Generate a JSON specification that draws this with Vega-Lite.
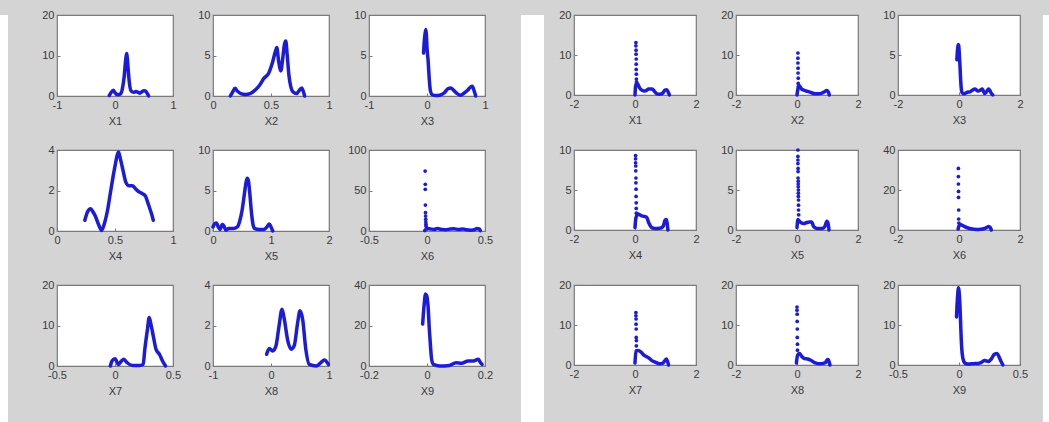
{
"$schema":"https://vega.github.io/schema/vega-lite/v6.json",
"background":"#d4d4d4",
"padding":{"left":0,"top":8,"right":0,"bottom":0},
"config":{
"view":{"fill":"white","stroke":"#7a7a7a","strokeWidth":1.2},
"axis":{"domain":false,"grid":false,"ticks":true,"tickSize":-3,"tickColor":"#7a7a7a","labelExpr":"toString(datum.value)","labelFont":"Liberation Sans","labelFontSize":11,"labelColor":"#3a3a3a","labelPadding":6,"labelFlush":false,"labelOverlap":false,"labelBound":false,"titleFont":"Liberation Sans","titleFontSize":11,"titleFontWeight":"normal","titleColor":"#3a3a3a","titlePadding":5},
"line":{"strokeWidth":3.5,"color":"#1c1cd8","interpolate":"monotone","strokeCap":"round","strokeJoin":"round"},
"point":{"filled":true,"size":14,"color":"#1c1cd8","opacity":1}
},
"datasets":{
"L":[
{"s":"L1","x":-0.1,"y":0.1},{"s":"L1","x":-0.07,"y":0.8},{"s":"L1","x":-0.03,"y":1.4},{"s":"L1","x":0,"y":0.8},{"s":"L1","x":0.05,"y":0.3},{"s":"L1","x":0.1,"y":0.6},{"s":"L1","x":0.13,"y":2},{"s":"L1","x":0.16,"y":5},{"s":"L1","x":0.185,"y":9},{"s":"L1","x":0.2,"y":10.5},{"s":"L1","x":0.215,"y":9},{"s":"L1","x":0.23,"y":6},{"s":"L1","x":0.25,"y":3},{"s":"L1","x":0.28,"y":1.2},{"s":"L1","x":0.32,"y":0.9},{"s":"L1","x":0.36,"y":1.1},{"s":"L1","x":0.4,"y":0.9},{"s":"L1","x":0.43,"y":0.7},{"s":"L1","x":0.46,"y":1},{"s":"L1","x":0.5,"y":1.3},{"s":"L1","x":0.53,"y":1.2},{"s":"L1","x":0.56,"y":0.5},{"s":"L1","x":0.58,"y":0},
{"s":"L2","x":0.15,"y":0},{"s":"L2","x":0.17,"y":0.5},{"s":"L2","x":0.19,"y":0.95},{"s":"L2","x":0.21,"y":0.6},{"s":"L2","x":0.24,"y":0.3},{"s":"L2","x":0.28,"y":0.2},{"s":"L2","x":0.32,"y":0.3},{"s":"L2","x":0.36,"y":0.7},{"s":"L2","x":0.4,"y":1.3},{"s":"L2","x":0.44,"y":2.2},{"s":"L2","x":0.48,"y":2.8},{"s":"L2","x":0.51,"y":4},{"s":"L2","x":0.54,"y":5.6},{"s":"L2","x":0.55,"y":6},{"s":"L2","x":0.565,"y":4.4},{"s":"L2","x":0.585,"y":3.1},{"s":"L2","x":0.6,"y":4.5},{"s":"L2","x":0.615,"y":6.3},{"s":"L2","x":0.627,"y":6.8},{"s":"L2","x":0.64,"y":5},{"s":"L2","x":0.655,"y":2.5},{"s":"L2","x":0.67,"y":1.2},{"s":"L2","x":0.69,"y":0.5},{"s":"L2","x":0.72,"y":0.3},{"s":"L2","x":0.75,"y":0.8},{"s":"L2","x":0.765,"y":1},{"s":"L2","x":0.78,"y":0.5},{"s":"L2","x":0.79,"y":0},
{"s":"L3","x":-0.06,"y":5.3},{"s":"L3","x":-0.05,"y":6.5},{"s":"L3","x":-0.035,"y":7.6},{"s":"L3","x":-0.02,"y":8.2},{"s":"L3","x":-0.01,"y":7.5},{"s":"L3","x":0,"y":6},{"s":"L3","x":0.02,"y":4.3},{"s":"L3","x":0.04,"y":2},{"s":"L3","x":0.06,"y":0.6},{"s":"L3","x":0.09,"y":0.15},{"s":"L3","x":0.15,"y":0.05},{"s":"L3","x":0.22,"y":0.1},{"s":"L3","x":0.3,"y":0.4},{"s":"L3","x":0.36,"y":0.9},{"s":"L3","x":0.41,"y":1.0},{"s":"L3","x":0.46,"y":0.7},{"s":"L3","x":0.52,"y":0.3},{"s":"L3","x":0.58,"y":0.1},{"s":"L3","x":0.63,"y":0.3},{"s":"L3","x":0.7,"y":0.7},{"s":"L3","x":0.75,"y":1.1},{"s":"L3","x":0.78,"y":1.2},{"s":"L3","x":0.81,"y":0.7},{"s":"L3","x":0.84,"y":0},
{"s":"L4","x":0.24,"y":0.53},{"s":"L4","x":0.26,"y":0.9},{"s":"L4","x":0.29,"y":1.1},{"s":"L4","x":0.31,"y":0.95},{"s":"L4","x":0.33,"y":0.74},{"s":"L4","x":0.36,"y":0.3},{"s":"L4","x":0.385,"y":0.03},{"s":"L4","x":0.41,"y":0.4},{"s":"L4","x":0.435,"y":1.0},{"s":"L4","x":0.458,"y":1.8},{"s":"L4","x":0.478,"y":2.5},{"s":"L4","x":0.5,"y":3.2},{"s":"L4","x":0.52,"y":3.77},{"s":"L4","x":0.53,"y":3.9},{"s":"L4","x":0.545,"y":3.6},{"s":"L4","x":0.565,"y":3.1},{"s":"L4","x":0.594,"y":2.4},{"s":"L4","x":0.62,"y":2.23},{"s":"L4","x":0.65,"y":2.23},{"s":"L4","x":0.675,"y":2.1},{"s":"L4","x":0.696,"y":1.98},{"s":"L4","x":0.733,"y":1.85},{"s":"L4","x":0.762,"y":1.73},{"s":"L4","x":0.78,"y":1.45},{"s":"L4","x":0.797,"y":1.16},{"s":"L4","x":0.815,"y":0.85},{"s":"L4","x":0.83,"y":0.53},
{"s":"L5","x":0,"y":0.5},{"s":"L5","x":0.03,"y":0.9},{"s":"L5","x":0.06,"y":1.0},{"s":"L5","x":0.09,"y":0.5},{"s":"L5","x":0.12,"y":0.2},{"s":"L5","x":0.16,"y":0.8},{"s":"L5","x":0.19,"y":0.6},{"s":"L5","x":0.22,"y":0.1},{"s":"L5","x":0.27,"y":0.3},{"s":"L5","x":0.35,"y":0.3},{"s":"L5","x":0.42,"y":0.5},{"s":"L5","x":0.46,"y":1.2},{"s":"L5","x":0.5,"y":2.5},{"s":"L5","x":0.54,"y":4.5},{"s":"L5","x":0.57,"y":6},{"s":"L5","x":0.59,"y":6.5},{"s":"L5","x":0.61,"y":6.2},{"s":"L5","x":0.63,"y":5},{"s":"L5","x":0.66,"y":2.5},{"s":"L5","x":0.69,"y":0.8},{"s":"L5","x":0.72,"y":0.3},{"s":"L5","x":0.8,"y":0.2},{"s":"L5","x":0.88,"y":0.2},{"s":"L5","x":0.93,"y":0.5},{"s":"L5","x":0.97,"y":0.85},{"s":"L5","x":1.0,"y":0.5},{"s":"L5","x":1.03,"y":0},
{"s":"L6","x":-0.02,"y":0.5},{"s":"L6","x":0,"y":3},{"s":"L6","x":0.03,"y":2.5},{"s":"L6","x":0.06,"y":2},{"s":"L6","x":0.09,"y":3},{"s":"L6","x":0.12,"y":2.2},{"s":"L6","x":0.16,"y":1.5},{"s":"L6","x":0.2,"y":2.5},{"s":"L6","x":0.23,"y":2.8},{"s":"L6","x":0.27,"y":1.8},{"s":"L6","x":0.31,"y":2.5},{"s":"L6","x":0.34,"y":1.5},{"s":"L6","x":0.38,"y":1},{"s":"L6","x":0.41,"y":1.5},{"s":"L6","x":0.43,"y":3},{"s":"L6","x":0.45,"y":2.5},{"s":"L6","x":0.46,"y":0.5},
{"s":"L7","x":-0.04,"y":0},{"s":"L7","x":-0.026,"y":1.24},{"s":"L7","x":0,"y":1.8},{"s":"L7","x":0.03,"y":0.4},{"s":"L7","x":0.055,"y":1.2},{"s":"L7","x":0.076,"y":1.65},{"s":"L7","x":0.105,"y":0.8},{"s":"L7","x":0.15,"y":0.15},{"s":"L7","x":0.21,"y":0.1},{"s":"L7","x":0.243,"y":0.4},{"s":"L7","x":0.257,"y":4.1},{"s":"L7","x":0.28,"y":9.1},{"s":"L7","x":0.295,"y":12},{"s":"L7","x":0.31,"y":10.3},{"s":"L7","x":0.33,"y":7.4},{"s":"L7","x":0.354,"y":4.1},{"s":"L7","x":0.383,"y":2.9},{"s":"L7","x":0.41,"y":1.24},{"s":"L7","x":0.436,"y":0},
{"s":"L8","x":-0.075,"y":0.58},{"s":"L8","x":-0.03,"y":0.86},{"s":"L8","x":0.03,"y":0.74},{"s":"L8","x":0.086,"y":1.0},{"s":"L8","x":0.14,"y":2.0},{"s":"L8","x":0.19,"y":2.8},{"s":"L8","x":0.23,"y":2.3},{"s":"L8","x":0.29,"y":1.24},{"s":"L8","x":0.345,"y":0.83},{"s":"L8","x":0.4,"y":1.0},{"s":"L8","x":0.46,"y":2.15},{"s":"L8","x":0.5,"y":2.73},{"s":"L8","x":0.546,"y":2.3},{"s":"L8","x":0.6,"y":0.83},{"s":"L8","x":0.66,"y":0.08},{"s":"L8","x":0.78,"y":0},{"s":"L8","x":0.86,"y":0.17},{"s":"L8","x":0.92,"y":0.3},{"s":"L8","x":0.99,"y":0.08},
{"s":"L9","x":-0.015,"y":20.7},{"s":"L9","x":-0.013,"y":24.8},{"s":"L9","x":-0.009,"y":31.4},{"s":"L9","x":-0.006,"y":35.5},{"s":"L9","x":-0.001,"y":34.7},{"s":"L9","x":0.0035,"y":29.8},{"s":"L9","x":0.008,"y":18.2},{"s":"L9","x":0.012,"y":9.9},{"s":"L9","x":0.016,"y":3.3},{"s":"L9","x":0.022,"y":0.8},{"s":"L9","x":0.043,"y":0},{"s":"L9","x":0.078,"y":0.3},{"s":"L9","x":0.1,"y":1.65},{"s":"L9","x":0.119,"y":1.3},{"s":"L9","x":0.142,"y":2.5},{"s":"L9","x":0.16,"y":2.5},{"s":"L9","x":0.177,"y":3.3},{"s":"L9","x":0.183,"y":2.0},{"s":"L9","x":0.19,"y":0.8},
{"s":"R1","x":0,"y":0},{"s":"R1","x":0.02,"y":2.2},{"s":"R1","x":0.06,"y":3},{"s":"R1","x":0.1,"y":2.6},{"s":"R1","x":0.15,"y":1.8},{"s":"R1","x":0.22,"y":1.2},{"s":"R1","x":0.29,"y":1.0},{"s":"R1","x":0.36,"y":1.1},{"s":"R1","x":0.45,"y":1.5},{"s":"R1","x":0.56,"y":1.5},{"s":"R1","x":0.64,"y":0.9},{"s":"R1","x":0.72,"y":0.3},{"s":"R1","x":0.8,"y":0.2},{"s":"R1","x":0.9,"y":0.4},{"s":"R1","x":0.98,"y":1.2},{"s":"R1","x":1.04,"y":1.3},{"s":"R1","x":1.1,"y":0.5},{"s":"R1","x":1.13,"y":0},
{"s":"R2","x":0,"y":0},{"s":"R2","x":0.03,"y":1.5},{"s":"R2","x":0.08,"y":2.3},{"s":"R2","x":0.15,"y":1.5},{"s":"R2","x":0.22,"y":1.2},{"s":"R2","x":0.3,"y":1.0},{"s":"R2","x":0.4,"y":0.8},{"s":"R2","x":0.5,"y":0.5},{"s":"R2","x":0.6,"y":0.3},{"s":"R2","x":0.7,"y":0.3},{"s":"R2","x":0.8,"y":0.4},{"s":"R2","x":0.9,"y":0.8},{"s":"R2","x":0.97,"y":1.1},{"s":"R2","x":1.03,"y":0.7},{"s":"R2","x":1.06,"y":0},
{"s":"R3","x":-0.07,"y":4.4},{"s":"R3","x":-0.05,"y":5.6},{"s":"R3","x":-0.03,"y":6.3},{"s":"R3","x":-0.01,"y":6.2},{"s":"R3","x":0.01,"y":5.2},{"s":"R3","x":0.03,"y":3.8},{"s":"R3","x":0.05,"y":2.2},{"s":"R3","x":0.07,"y":1.0},{"s":"R3","x":0.1,"y":0.3},{"s":"R3","x":0.15,"y":0.15},{"s":"R3","x":0.2,"y":0.2},{"s":"R3","x":0.28,"y":0.35},{"s":"R3","x":0.36,"y":0.4},{"s":"R3","x":0.44,"y":0.6},{"s":"R3","x":0.52,"y":0.76},{"s":"R3","x":0.58,"y":0.6},{"s":"R3","x":0.63,"y":0.5},{"s":"R3","x":0.7,"y":0.6},{"s":"R3","x":0.76,"y":0.76},{"s":"R3","x":0.8,"y":0.5},{"s":"R3","x":0.84,"y":0.2},{"s":"R3","x":0.9,"y":0.4},{"s":"R3","x":0.97,"y":0.76},{"s":"R3","x":1.02,"y":0.5},{"s":"R3","x":1.06,"y":0.2},{"s":"R3","x":1.11,"y":0},
{"s":"R4","x":0,"y":0.3},{"s":"R4","x":0.03,"y":1.5},{"s":"R4","x":0.1,"y":2.0},{"s":"R4","x":0.2,"y":1.8},{"s":"R4","x":0.3,"y":1.7},{"s":"R4","x":0.38,"y":1.6},{"s":"R4","x":0.45,"y":0.9},{"s":"R4","x":0.55,"y":0.3},{"s":"R4","x":0.65,"y":0.2},{"s":"R4","x":0.75,"y":0.2},{"s":"R4","x":0.85,"y":0.25},{"s":"R4","x":0.93,"y":0.5},{"s":"R4","x":0.98,"y":1.2},{"s":"R4","x":1.03,"y":1.3},{"s":"R4","x":1.06,"y":0.7},{"s":"R4","x":1.08,"y":0},
{"s":"R5","x":0,"y":0.3},{"s":"R5","x":0.03,"y":1.3},{"s":"R5","x":0.08,"y":1.1},{"s":"R5","x":0.14,"y":0.9},{"s":"R5","x":0.22,"y":0.8},{"s":"R5","x":0.3,"y":0.9},{"s":"R5","x":0.4,"y":1.0},{"s":"R5","x":0.48,"y":1.0},{"s":"R5","x":0.55,"y":0.4},{"s":"R5","x":0.65,"y":0.2},{"s":"R5","x":0.75,"y":0.2},{"s":"R5","x":0.85,"y":0.2},{"s":"R5","x":0.92,"y":0.5},{"s":"R5","x":0.98,"y":1.1},{"s":"R5","x":1.02,"y":0.8},{"s":"R5","x":1.05,"y":0},
{"s":"R6","x":-0.03,"y":0.5},{"s":"R6","x":0,"y":2},{"s":"R6","x":0.05,"y":2.8},{"s":"R6","x":0.1,"y":2.4},{"s":"R6","x":0.2,"y":1.6},{"s":"R6","x":0.3,"y":1.0},{"s":"R6","x":0.4,"y":0.6},{"s":"R6","x":0.5,"y":0.4},{"s":"R6","x":0.6,"y":0.3},{"s":"R6","x":0.7,"y":0.4},{"s":"R6","x":0.8,"y":0.6},{"s":"R6","x":0.9,"y":1.2},{"s":"R6","x":0.97,"y":1.8},{"s":"R6","x":1.02,"y":1.3},{"s":"R6","x":1.06,"y":0},
{"s":"R7","x":0,"y":0.5},{"s":"R7","x":0.03,"y":3.5},{"s":"R7","x":0.1,"y":3.6},{"s":"R7","x":0.2,"y":3.2},{"s":"R7","x":0.3,"y":2.4},{"s":"R7","x":0.4,"y":2.0},{"s":"R7","x":0.46,"y":1.7},{"s":"R7","x":0.55,"y":1.1},{"s":"R7","x":0.68,"y":0.66},{"s":"R7","x":0.8,"y":0.3},{"s":"R7","x":0.9,"y":0.4},{"s":"R7","x":0.97,"y":1.0},{"s":"R7","x":1.03,"y":1.5},{"s":"R7","x":1.07,"y":0.8},{"s":"R7","x":1.1,"y":0},
{"s":"R8","x":-0.02,"y":0.5},{"s":"R8","x":0.02,"y":2.5},{"s":"R8","x":0.08,"y":2.9},{"s":"R8","x":0.15,"y":2.2},{"s":"R8","x":0.25,"y":1.6},{"s":"R8","x":0.35,"y":1.5},{"s":"R8","x":0.45,"y":1.2},{"s":"R8","x":0.55,"y":0.7},{"s":"R8","x":0.65,"y":0.4},{"s":"R8","x":0.75,"y":0.3},{"s":"R8","x":0.85,"y":0.4},{"s":"R8","x":0.93,"y":0.6},{"s":"R8","x":0.98,"y":1.2},{"s":"R8","x":1.02,"y":1.4},{"s":"R8","x":1.06,"y":0.6},{"s":"R8","x":1.08,"y":0},
{"s":"R9","x":-0.02,"y":12},{"s":"R9","x":-0.017,"y":14.5},{"s":"R9","x":-0.013,"y":16.5},{"s":"R9","x":-0.009,"y":18.3},{"s":"R9","x":-0.005,"y":19.3},{"s":"R9","x":-0.001,"y":18.8},{"s":"R9","x":0.003,"y":17.5},{"s":"R9","x":0.007,"y":15.5},{"s":"R9","x":0.011,"y":12.5},{"s":"R9","x":0.015,"y":9},{"s":"R9","x":0.019,"y":6},{"s":"R9","x":0.023,"y":4},{"s":"R9","x":0.028,"y":2.4},{"s":"R9","x":0.035,"y":1.3},{"s":"R9","x":0.045,"y":0.6},{"s":"R9","x":0.06,"y":0.3},{"s":"R9","x":0.076,"y":0.25},{"s":"R9","x":0.1,"y":0.3},{"s":"R9","x":0.13,"y":0.35},{"s":"R9","x":0.157,"y":0.4},{"s":"R9","x":0.18,"y":0.6},{"s":"R9","x":0.21,"y":1.1},{"s":"R9","x":0.24,"y":0.9},{"s":"R9","x":0.265,"y":1.5},{"s":"R9","x":0.29,"y":2.7},{"s":"R9","x":0.313,"y":2.9},{"s":"R9","x":0.33,"y":1.9},{"s":"R9","x":0.345,"y":0.9},{"s":"R9","x":0.36,"y":0}
],
"P":[
{"s":"L6","x":-0.016,"y":74},{"s":"L6","x":-0.015,"y":57.6},{"s":"L6","x":-0.015,"y":51.4},{"s":"L6","x":-0.014,"y":32},{"s":"L6","x":-0.013,"y":22.6},{"s":"L6","x":-0.012,"y":18.5},{"s":"L6","x":-0.011,"y":14.4},{"s":"L6","x":-0.01,"y":11},{"s":"L6","x":-0.009,"y":8.2},{"s":"L6","x":-0.008,"y":6},
{"s":"R1","x":0.03,"y":13.1},{"s":"R1","x":0.03,"y":12.3},{"s":"R1","x":0.035,"y":11.2},{"s":"R1","x":0.035,"y":10.2},{"s":"R1","x":0.04,"y":9.0},{"s":"R1","x":0.04,"y":7.7},{"s":"R1","x":0.04,"y":6.4},{"s":"R1","x":0.045,"y":5.2},{"s":"R1","x":0.045,"y":4.0},{"s":"R1","x":0.05,"y":3.3},
{"s":"R2","x":0.03,"y":10.5},{"s":"R2","x":0.03,"y":9.2},{"s":"R2","x":0.03,"y":8},{"s":"R2","x":0.035,"y":6.7},{"s":"R2","x":0.035,"y":5.5},{"s":"R2","x":0.04,"y":4.2},{"s":"R2","x":0.04,"y":2.9},{"s":"R2","x":0.045,"y":2.1},
{"s":"R4","x":0.02,"y":9.3},{"s":"R4","x":0.02,"y":8.9},{"s":"R4","x":0.02,"y":8.4},{"s":"R4","x":0.025,"y":8.0},{"s":"R4","x":0.025,"y":7.4},{"s":"R4","x":0.03,"y":6.5},{"s":"R4","x":0.03,"y":5.9},{"s":"R4","x":0.035,"y":5.1},{"s":"R4","x":0.035,"y":4.2},{"s":"R4","x":0.04,"y":3.4},{"s":"R4","x":0.04,"y":2.7},{"s":"R4","x":0.045,"y":2.1},
{"s":"R5","x":0.03,"y":10},{"s":"R5","x":0.03,"y":9.2},{"s":"R5","x":0.03,"y":8.75},{"s":"R5","x":0.03,"y":8.3},{"s":"R5","x":0.035,"y":7.7},{"s":"R5","x":0.035,"y":7.3},{"s":"R5","x":0.035,"y":6.5},{"s":"R5","x":0.04,"y":6.1},{"s":"R5","x":0.04,"y":5.75},{"s":"R5","x":0.04,"y":5.4},{"s":"R5","x":0.045,"y":5.0},{"s":"R5","x":0.045,"y":4.6},{"s":"R5","x":0.045,"y":4.2},{"s":"R5","x":0.05,"y":3.75},{"s":"R5","x":0.05,"y":3.1},{"s":"R5","x":0.05,"y":2.5},{"s":"R5","x":0.055,"y":1.9},
{"s":"R6","x":-0.02,"y":30.8},{"s":"R6","x":-0.02,"y":26.7},{"s":"R6","x":-0.02,"y":23},{"s":"R6","x":-0.015,"y":19.3},{"s":"R6","x":-0.015,"y":16.3},{"s":"R6","x":-0.01,"y":10},{"s":"R6","x":-0.01,"y":5.5},{"s":"R6","x":-0.005,"y":3.5},
{"s":"R7","x":0.03,"y":13.1},{"s":"R7","x":0.03,"y":12.3},{"s":"R7","x":0.035,"y":11.5},{"s":"R7","x":0.035,"y":10.2},{"s":"R7","x":0.04,"y":9.0},{"s":"R7","x":0.04,"y":6.9},{"s":"R7","x":0.045,"y":6.1},{"s":"R7","x":0.045,"y":4.8},
{"s":"R8","x":0,"y":14.5},{"s":"R8","x":0,"y":13.7},{"s":"R8","x":0.005,"y":12.7},{"s":"R8","x":0.005,"y":10.9},{"s":"R8","x":0.01,"y":9},{"s":"R8","x":0.01,"y":6.9},{"s":"R8","x":0.015,"y":5.2},{"s":"R8","x":0.015,"y":3.7}
]
},
"spacing":27,
"hconcat":[
{"spacing":33,"hconcat":[
{"width":8,"height":414,"view":{"fill":"white","stroke":null},"data":{"values":[]},"mark":"point","encoding":{}},
{"columns":3,"bounds":"flush","spacing":{"row":54,"column":40},"concat":[
{"width":116,"height":81,"data":{"name":"L"},"transform":[{"filter":"datum.s==='L1'"}],"mark":"line","encoding":{"x":{"field":"x","type":"quantitative","scale":{"domain":[-1,1]},"axis":{"values":[-1,0,1],"title":"X1"}},"y":{"field":"y","type":"quantitative","title":null,"scale":{"domain":[0,20]},"axis":{"values":[0,10,20]}}}},
{"width":116,"height":81,"data":{"name":"L"},"transform":[{"filter":"datum.s==='L2'"}],"mark":"line","encoding":{"x":{"field":"x","type":"quantitative","scale":{"domain":[0,1]},"axis":{"values":[0,0.5,1],"title":"X2"}},"y":{"field":"y","type":"quantitative","title":null,"scale":{"domain":[0,10]},"axis":{"values":[0,5,10]}}}},
{"width":116,"height":81,"data":{"name":"L"},"transform":[{"filter":"datum.s==='L3'"}],"mark":"line","encoding":{"x":{"field":"x","type":"quantitative","scale":{"domain":[-1,1]},"axis":{"values":[-1,0,1],"title":"X3"}},"y":{"field":"y","type":"quantitative","title":null,"scale":{"domain":[0,10]},"axis":{"values":[0,5,10]}}}},
{"width":116,"height":81,"data":{"name":"L"},"transform":[{"filter":"datum.s==='L4'"}],"mark":"line","encoding":{"x":{"field":"x","type":"quantitative","scale":{"domain":[0,1]},"axis":{"values":[0,0.5,1],"title":"X4"}},"y":{"field":"y","type":"quantitative","title":null,"scale":{"domain":[0,4]},"axis":{"values":[0,2,4]}}}},
{"width":116,"height":81,"data":{"name":"L"},"transform":[{"filter":"datum.s==='L5'"}],"mark":"line","encoding":{"x":{"field":"x","type":"quantitative","scale":{"domain":[0,2]},"axis":{"values":[0,1,2],"title":"X5"}},"y":{"field":"y","type":"quantitative","title":null,"scale":{"domain":[0,10]},"axis":{"values":[0,5,10]}}}},
{"width":116,"height":81,"encoding":{"x":{"field":"x","type":"quantitative","scale":{"domain":[-0.5,0.5]},"axis":{"values":[-0.5,0,0.5],"title":"X6"}},"y":{"field":"y","type":"quantitative","title":null,"scale":{"domain":[0,100]},"axis":{"values":[0,50,100]}}},"layer":[{"data":{"name":"L"},"transform":[{"filter":"datum.s==='L6'"}],"mark":"line"},{"data":{"name":"P"},"transform":[{"filter":"datum.s==='L6'"}],"mark":"point"}]},
{"width":116,"height":81,"data":{"name":"L"},"transform":[{"filter":"datum.s==='L7'"}],"mark":"line","encoding":{"x":{"field":"x","type":"quantitative","scale":{"domain":[-0.5,0.5]},"axis":{"values":[-0.5,0,0.5],"title":"X7"}},"y":{"field":"y","type":"quantitative","title":null,"scale":{"domain":[0,20]},"axis":{"values":[0,10,20]}}}},
{"width":116,"height":81,"data":{"name":"L"},"transform":[{"filter":"datum.s==='L8'"}],"mark":"line","encoding":{"x":{"field":"x","type":"quantitative","scale":{"domain":[-1,1]},"axis":{"values":[-1,0,1],"title":"X8"}},"y":{"field":"y","type":"quantitative","title":null,"scale":{"domain":[0,4]},"axis":{"values":[0,2,4]}}}},
{"width":116,"height":81,"data":{"name":"L"},"transform":[{"filter":"datum.s==='L9'"}],"mark":"line","encoding":{"x":{"field":"x","type":"quantitative","scale":{"domain":[-0.2,0.2]},"axis":{"values":[-0.2,0,0.2],"title":"X9"}},"y":{"field":"y","type":"quantitative","title":null,"scale":{"domain":[0,40]},"axis":{"values":[0,20,40]}}}}
]}
]},
{"spacing":14,"hconcat":[
{"width":23,"height":414,"view":{"fill":"white","stroke":null},"data":{"values":[]},"mark":"point","encoding":{}},
{"columns":3,"bounds":"flush","spacing":{"row":55,"column":40},"concat":[
{"width":122,"height":80,"encoding":{"x":{"field":"x","type":"quantitative","scale":{"domain":[-2,2]},"axis":{"values":[-2,0,2],"title":"X1"}},"y":{"field":"y","type":"quantitative","title":null,"scale":{"domain":[0,20]},"axis":{"values":[0,10,20]}}},"layer":[{"data":{"name":"L"},"transform":[{"filter":"datum.s==='R1'"}],"mark":"line"},{"data":{"name":"P"},"transform":[{"filter":"datum.s==='R1'"}],"mark":"point"}]},
{"width":122,"height":80,"encoding":{"x":{"field":"x","type":"quantitative","scale":{"domain":[-2,2]},"axis":{"values":[-2,0,2],"title":"X2"}},"y":{"field":"y","type":"quantitative","title":null,"scale":{"domain":[0,20]},"axis":{"values":[0,10,20]}}},"layer":[{"data":{"name":"L"},"transform":[{"filter":"datum.s==='R2'"}],"mark":"line"},{"data":{"name":"P"},"transform":[{"filter":"datum.s==='R2'"}],"mark":"point"}]},
{"width":122,"height":80,"data":{"name":"L"},"transform":[{"filter":"datum.s==='R3'"}],"mark":"line","encoding":{"x":{"field":"x","type":"quantitative","scale":{"domain":[-2,2]},"axis":{"values":[-2,0,2],"title":"X3"}},"y":{"field":"y","type":"quantitative","title":null,"scale":{"domain":[0,10]},"axis":{"values":[0,5,10]}}}},
{"width":122,"height":80,"encoding":{"x":{"field":"x","type":"quantitative","scale":{"domain":[-2,2]},"axis":{"values":[-2,0,2],"title":"X4"}},"y":{"field":"y","type":"quantitative","title":null,"scale":{"domain":[0,10]},"axis":{"values":[0,5,10]}}},"layer":[{"data":{"name":"L"},"transform":[{"filter":"datum.s==='R4'"}],"mark":"line"},{"data":{"name":"P"},"transform":[{"filter":"datum.s==='R4'"}],"mark":"point"}]},
{"width":122,"height":80,"encoding":{"x":{"field":"x","type":"quantitative","scale":{"domain":[-2,2]},"axis":{"values":[-2,0,2],"title":"X5"}},"y":{"field":"y","type":"quantitative","title":null,"scale":{"domain":[0,10]},"axis":{"values":[0,5,10]}}},"layer":[{"data":{"name":"L"},"transform":[{"filter":"datum.s==='R5'"}],"mark":"line"},{"data":{"name":"P"},"transform":[{"filter":"datum.s==='R5'"}],"mark":"point"}]},
{"width":122,"height":80,"encoding":{"x":{"field":"x","type":"quantitative","scale":{"domain":[-2,2]},"axis":{"values":[-2,0,2],"title":"X6"}},"y":{"field":"y","type":"quantitative","title":null,"scale":{"domain":[0,40]},"axis":{"values":[0,20,40]}}},"layer":[{"data":{"name":"L"},"transform":[{"filter":"datum.s==='R6'"}],"mark":"line"},{"data":{"name":"P"},"transform":[{"filter":"datum.s==='R6'"}],"mark":"point"}]},
{"width":122,"height":80,"encoding":{"x":{"field":"x","type":"quantitative","scale":{"domain":[-2,2]},"axis":{"values":[-2,0,2],"title":"X7"}},"y":{"field":"y","type":"quantitative","title":null,"scale":{"domain":[0,20]},"axis":{"values":[0,10,20]}}},"layer":[{"data":{"name":"L"},"transform":[{"filter":"datum.s==='R7'"}],"mark":"line"},{"data":{"name":"P"},"transform":[{"filter":"datum.s==='R7'"}],"mark":"point"}]},
{"width":122,"height":80,"encoding":{"x":{"field":"x","type":"quantitative","scale":{"domain":[-2,2]},"axis":{"values":[-2,0,2],"title":"X8"}},"y":{"field":"y","type":"quantitative","title":null,"scale":{"domain":[0,20]},"axis":{"values":[0,10,20]}}},"layer":[{"data":{"name":"L"},"transform":[{"filter":"datum.s==='R8'"}],"mark":"line"},{"data":{"name":"P"},"transform":[{"filter":"datum.s==='R8'"}],"mark":"point"}]},
{"width":122,"height":80,"data":{"name":"L"},"transform":[{"filter":"datum.s==='R9'"}],"mark":"line","encoding":{"x":{"field":"x","type":"quantitative","scale":{"domain":[-0.5,0.5]},"axis":{"values":[-0.5,0,0.5],"title":"X9"}},"y":{"field":"y","type":"quantitative","title":null,"scale":{"domain":[0,20]},"axis":{"values":[0,10,20]}}}}
]},
{"width":6,"height":414,"view":{"fill":"white","stroke":null},"data":{"values":[]},"mark":"point","encoding":{}}
]}
]
}
